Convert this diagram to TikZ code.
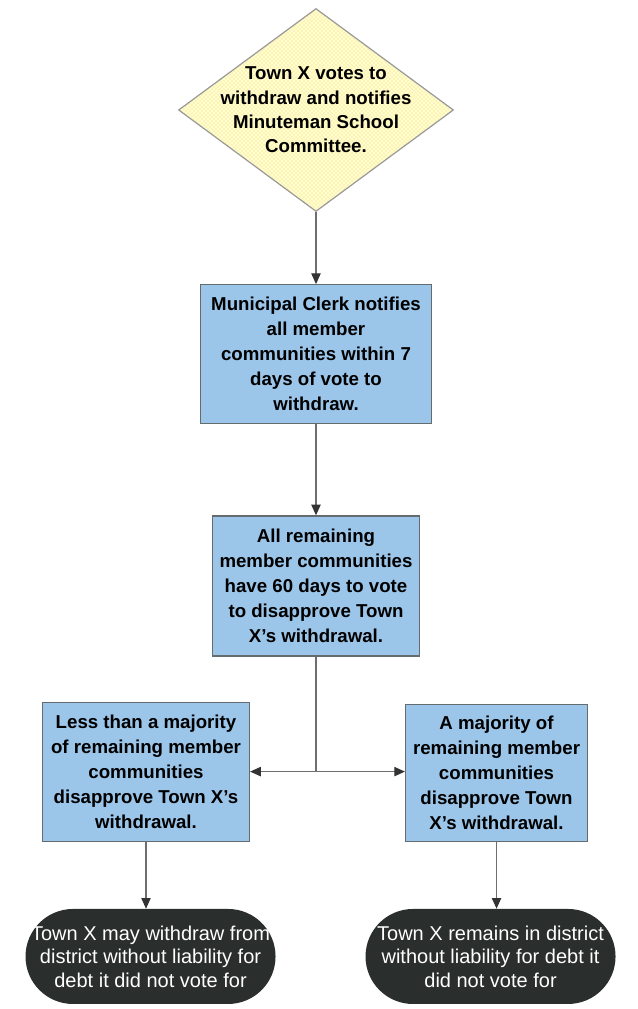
\documentclass[tikz,border=0pt]{standalone}
\usepackage{fontspec}
\setmainfont{Liberation Sans}
\usetikzlibrary{shapes, arrows.meta, patterns, positioning}

\definecolor{boxblue}{RGB}{155,197,233}
\definecolor{boxline}{RGB}{100,108,112}
\definecolor{darkend}{RGB}{42,46,44}
\definecolor{dotyellow}{RGB}{242,226,40}
\definecolor{diamondbg}{RGB}{255,252,215}
\definecolor{lineg}{RGB}{110,110,110}

\begin{document}
\begin{tikzpicture}[>={Triangle[length=8pt, width=7pt, color=black!80]}, font=\bfseries\fontsize{14}{18.75}\selectfont,
    box/.style={draw=boxline, line width=0.9pt, fill=boxblue, align=center, inner sep=0pt},
    term/.style={fill=darkend, text=white, rounded corners=35.6pt, minimum width=187.5pt, minimum height=71.25pt, align=center, inner sep=0pt, font=\mdseries\fontsize{15}{17.6}\selectfont},
    conn/.style={draw=lineg, line width=0.8pt}]

\useasboundingbox (-237pt,82.5pt) rectangle (241.5pt,-674.25pt);

\node[diamond, draw=gray!80, line width=0.9pt, preaction={fill=diamondbg}, pattern=crosshatch dots, pattern color=dotyellow,
      minimum width=206.25pt, minimum height=152.25pt, inner sep=0pt,
      label={[align=center, font=\bfseries\fontsize{14}{18.2}\selectfont]center:Town X votes to\\withdraw and notifies\\Minuteman School\\Committee.}] (vote) at (0,0) {};

\node[box, below=54pt of vote, minimum width=173.25pt, minimum height=104.25pt] (clerk)
    {Municipal Clerk notifies\\all member\\communities within 7\\days of vote to\\withdraw.};
\node[box, below=68.25pt of clerk, minimum width=155.25pt, minimum height=105pt] (remain)
    {All remaining\\member communities\\have 60 days to vote\\to disapprove Town\\X’s withdrawal.};

\node[box, below=33.75pt of remain, xshift=-127.5pt, minimum width=155.25pt, minimum height=104.25pt] (less)
    {Less than a majority\\of remaining member\\communities\\disapprove Town X’s\\withdrawal.};
\node[box, below=35.25pt of remain, xshift=135.4pt, minimum width=136.5pt, minimum height=102.75pt] (major)
    {A majority of\\remaining member\\communities\\disapprove Town\\X’s withdrawal.};

\node[term, below=50.25pt of less, xshift=3.4pt] (leave)
    {Town X may withdraw from\\district without liability for\\debt it did not vote for};
\node[term, below=50.25pt of major, xshift=-4.5pt] (stay)
    {Town X remains in district\\without liability for debt it\\did not vote for};

\draw[conn, ->] (vote) -- (clerk);
\draw[conn, ->] (clerk) -- (remain);

\coordinate (split) at (remain.south |- less.east);
\draw[conn] (remain) -- (split);
\draw[conn, ->] (split) -- (less);
\draw[conn, ->] (split) -- (major.west |- split);

\draw[conn, ->] (less.south) -- (less.south |- leave.north);
\draw[conn, ->] (major.south) -- (major.south |- stay.north);

\end{tikzpicture}
\end{document}
